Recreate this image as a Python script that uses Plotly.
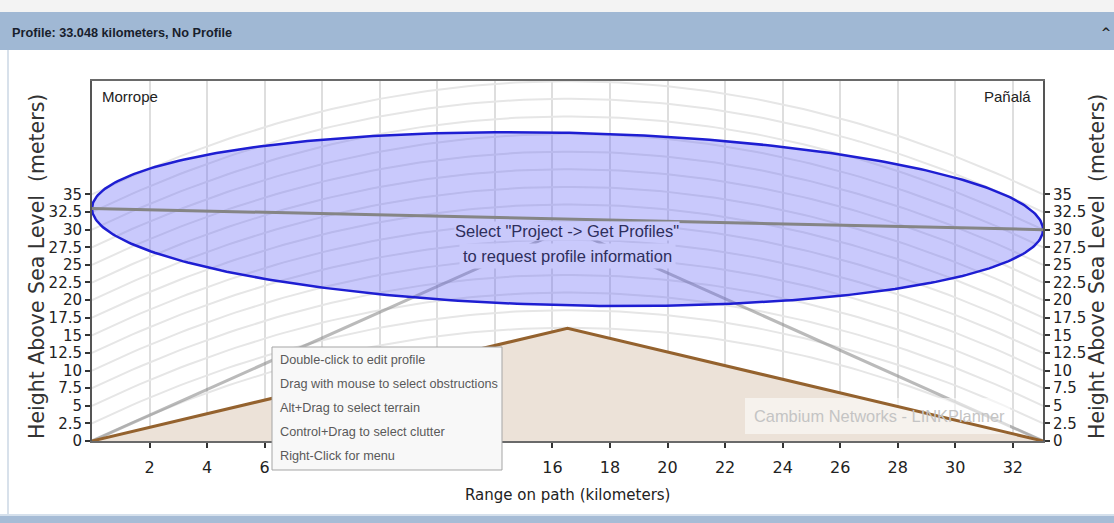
import numpy as np
import plotly.graph_objects as go

# ---------------- data ----------------
PATH_KM = 33.048
SITE_LEFT = "Morrope"
SITE_RIGHT = "Pañalá"
TERRAIN_KM = [0.0, 16.524, 33.048]
TERRAIN_M = [0.0, 16.0, 0.0]
LOS_KM = [0.0, 33.048]
LOS_M = [33.0, 30.0]
RAY_KM = [0.0, 16.524, 33.048]
RAY_M = [0.0, 30.2, 0.0]
FRESNEL_MID_M = 12.25
ARC_BASE_M = [0, 2.5, 5, 7.5, 10, 12.5, 15, 17.5, 20, 22.5, 25, 27.5, 30, 32.5, 35]
K_FACTOR = 4.0 / 3.0
EARTH_RADIUS_KM = 6371.0
X_TICKS = [2, 4, 6, 8, 10, 12, 14, 16, 18, 20, 22, 24, 26, 28, 30, 32]
# labels 8-14 are hidden behind the hint pop-up in the reference
X_TICK_LABELS = ["2", "4", "6", "", "", "", "", "16", "18", "20", "22", "24",
                 "26", "28", "30", "32"]
Y_TICKS = [0, 2.5, 5, 7.5, 10, 12.5, 15, 17.5, 20, 22.5, 25, 27.5, 30, 32.5, 35]
Y_TICK_LABELS = ["0", "2.5", "5", "7.5", "10", "12.5", "15", "17.5", "20",
                 "22.5", "25", "27.5", "30", "32.5", "35"]
Y_MAX = 51.1
HEADER = "Profile: 33.048 kilometers, No Profile"
CENTER_MSG = ['Select "Project -> Get Profiles"', "to request profile information"]
HINT_LINES = ["Double-click to edit profile",
              "Drag with mouse to select obstructions",
              "Alt+Drag to select terrain",
              "Control+Drag to select clutter",
              "Right-Click for menu"]
WATERMARK = "Cambium Networks - LINKPlanner"
X_TITLE = "Range on path (kilometers)"
Y_TITLE = "Height Above Sea Level  (meters)"

# ---------------- layout geometry ----------------
W, H = 1114, 523
ML, MR, MT, MB = 92, 71, 81, 82
PW, PH = W - ML - MR, H - MT - MB


def px(x):
    return (x - ML) / PW


def py(y):
    return (H - MB - y) / PH


SANS = "Liberation Sans, Arial"
DEJAVU = "DejaVu Sans"

fig = go.Figure()

# earth-curvature height arcs
xs = np.linspace(0, PATH_KM, 120)
bulge = xs * (PATH_KM - xs) / (2 * K_FACTOR * EARTH_RADIUS_KM) * 1000.0
ax_x, ax_y = [], []
for h in ARC_BASE_M:
    ax_x += list(xs) + [None]
    ax_y += list(h + bulge) + [None]
fig.add_trace(go.Scatter(x=ax_x, y=ax_y, mode="lines",
                         line=dict(color="#e6e6e6", width=2),
                         hoverinfo="skip", showlegend=False))

# terrain fill
fig.add_trace(go.Scatter(x=TERRAIN_KM, y=TERRAIN_M, mode="lines", fill="tozeroy",
                         fillcolor="#ece2d8", line=dict(width=0, color="rgba(0,0,0,0)"),
                         hoverinfo="skip", showlegend=False))

# ray lines
fig.add_trace(go.Scatter(x=RAY_KM, y=RAY_M, mode="lines",
                         line=dict(color="rgba(140,140,140,0.6)", width=3),
                         hoverinfo="skip", showlegend=False))

# Fresnel ellipse
t = np.linspace(0, 2 * np.pi, 400)
ex = PATH_KM / 2 - PATH_KM / 2 * np.cos(t)
los_at = LOS_M[0] + (LOS_M[1] - LOS_M[0]) * ex / PATH_KM
ey = los_at + FRESNEL_MID_M * np.sin(t)
fig.add_trace(go.Scatter(x=ex, y=ey, mode="lines", fill="toself",
                         fillcolor="rgba(100,100,245,0.35)",
                         line=dict(color="#1e1ed2", width=2.5),
                         hoverinfo="skip", showlegend=False))

# line of sight
fig.add_trace(go.Scatter(x=LOS_KM, y=LOS_M, mode="lines",
                         line=dict(color="#858585", width=3),
                         hoverinfo="skip", showlegend=False))

# dummy on right axis
fig.add_trace(go.Scatter(x=[0], y=[0], yaxis="y2", mode="markers",
                         marker=dict(opacity=0), hoverinfo="skip", showlegend=False))

shapes = []
shapes.append(dict(type="rect", xref="paper", yref="paper", x0=px(0), x1=px(W),
                   y0=py(12), y1=py(0), fillcolor="#f3f3f3", line_width=0, layer="above"))
shapes.append(dict(type="rect", xref="paper", yref="paper", x0=px(0), x1=px(W),
                   y0=py(50), y1=py(12), fillcolor="#a0b8d4", line_width=0, layer="above"))
shapes.append(dict(type="rect", xref="paper", yref="paper", x0=px(0), x1=px(W),
                   y0=py(H), y1=py(516), fillcolor="#a6bcd6", line_width=0, layer="above"))
shapes.append(dict(type="line", xref="paper", yref="paper", x0=px(0), x1=px(W),
                   y0=py(515), y1=py(515), line=dict(color="#d5e0ec", width=2), layer="above"))
shapes.append(dict(type="line", xref="paper", yref="paper", x0=px(8), x1=px(8),
                   y0=py(514), y1=py(50), line=dict(color="#cbd7e4", width=1.5), layer="above"))
# watermark box
shapes.append(dict(type="rect", xref="paper", yref="paper", x0=px(745), x1=px(1010),
                   y0=py(434), y1=py(398), fillcolor="rgba(255,255,255,0.55)",
                   line_width=0, layer="above"))
# terrain line (from the terrain arrays, through the data axes)
path = "M " + " L ".join(f"{a},{b}" for a, b in zip(TERRAIN_KM, TERRAIN_M))
shapes.append(dict(type="path", xref="x", yref="y", path=path,
                   line=dict(color="#94622e", width=3), layer="above"))
# hint pop-up
shapes.append(dict(type="rect", xref="paper", yref="paper", x0=px(272), x1=px(502),
                   y0=py(470), y1=py(347), fillcolor="#f8f8f8",
                   line=dict(color="#a5a5a5", width=1), layer="above"))

ann = []
ann.append(dict(text="<b>" + HEADER + "</b>", xref="paper", yref="paper", x=px(10), y=py(33),
                xanchor="left", yanchor="middle", showarrow=False,
                font=dict(family=SANS, size=12.7, color="#18202c")))
ann.append(dict(text="<b>^</b>", xref="paper", yref="paper", x=px(1106), y=py(33),
                xanchor="center", yanchor="middle", showarrow=False,
                font=dict(family=DEJAVU, size=12, color="#222")))
ann.append(dict(text=SITE_LEFT, xref="paper", yref="paper", x=px(100), y=py(97),
                xanchor="left", yanchor="middle", showarrow=False,
                font=dict(family=SANS, size=15, color="#222")))
ann.append(dict(text=SITE_RIGHT, xref="paper", yref="paper", x=px(1033), y=py(97),
                xanchor="right", yanchor="middle", showarrow=False,
                font=dict(family=SANS, size=15, color="#222")))
# centre message with a lavender text box (box top stays just under the LOS line)
ann.append(dict(text=CENTER_MSG[0], xref="paper", yref="paper", x=px(567), y=py(231.5),
                xanchor="center", yanchor="middle", showarrow=False,
                bgcolor="rgb(201,201,251)", borderpad=0,
                font=dict(family=SANS, size=16.5, color="#2e2e5c")))
ann.append(dict(text=CENTER_MSG[1], xref="paper", yref="paper", x=px(567), y=py(256),
                xanchor="center", yanchor="middle", showarrow=False,
                bgcolor="rgb(201,201,251)", borderpad=3,
                font=dict(family=SANS, size=16.5, color="#2e2e5c")))
ann.append(dict(text=WATERMARK, xref="paper", yref="paper", x=px(752), y=py(416),
                xanchor="left", yanchor="middle", showarrow=False,
                font=dict(family=SANS, size=16.4, color="#c4c4c4")))
for i, line in enumerate(HINT_LINES):
    ann.append(dict(text=line, xref="paper", yref="paper", x=px(278), y=py(360 + 24 * i),
                    xanchor="left", yanchor="middle", showarrow=False,
                    font=dict(family=SANS, size=12.7, color="#5a5a5a")))
ann.append(dict(text=X_TITLE, xref="paper", yref="paper", x=px(567), y=py(495),
                xanchor="center", yanchor="middle", showarrow=False,
                font=dict(family=DEJAVU, size=15, color="#222")))
ann.append(dict(text=Y_TITLE, xref="paper", yref="paper", x=px(37), y=py(267),
                xanchor="center", yanchor="middle", showarrow=False, textangle=-90,
                font=dict(family=DEJAVU, size=20.5, color="#333")))
ann.append(dict(text=Y_TITLE, xref="paper", yref="paper", x=px(1097), y=py(267),
                xanchor="center", yanchor="middle", showarrow=False, textangle=-90,
                font=dict(family=DEJAVU, size=20.5, color="#333")))

yaxis_common = dict(range=[0, Y_MAX], tickvals=Y_TICKS, ticktext=Y_TICK_LABELS,
                    ticks="outside", ticklen=5, tickwidth=1.5, tickcolor="#333",
                    showgrid=False, zeroline=False,
                    tickfont=dict(family=DEJAVU, size=15, color="#222"))

fig.update_layout(
    width=W, height=H,
    margin=dict(l=ML, r=MR, t=MT, b=MB),
    paper_bgcolor="white", plot_bgcolor="white",
    showlegend=False,
    xaxis=dict(range=[0, PATH_KM], tickvals=X_TICKS, ticktext=X_TICK_LABELS,
               ticks="outside", ticklen=5,
               tickwidth=1.5, tickcolor="#333", ticklabelstandoff=6,
               showgrid=True, gridcolor="#dedede", gridwidth=1.5, zeroline=False,
               showline=True, linecolor="#6a6a6a", linewidth=2, mirror=True,
               tickfont=dict(family=DEJAVU, size=16, color="#222")),
    yaxis=dict(**yaxis_common, showline=True, linecolor="#555", linewidth=2, mirror=True),
    yaxis2=dict(**yaxis_common, overlaying="y", side="right", showline=True,
                linecolor="#555", linewidth=2),
    shapes=shapes,
    annotations=ann,
)

fig.write_html("out.html",
               config={"displayModeBar": False},
               post_script="document.body.style.margin='0';"
                           "document.body.style.overflow='hidden';")
